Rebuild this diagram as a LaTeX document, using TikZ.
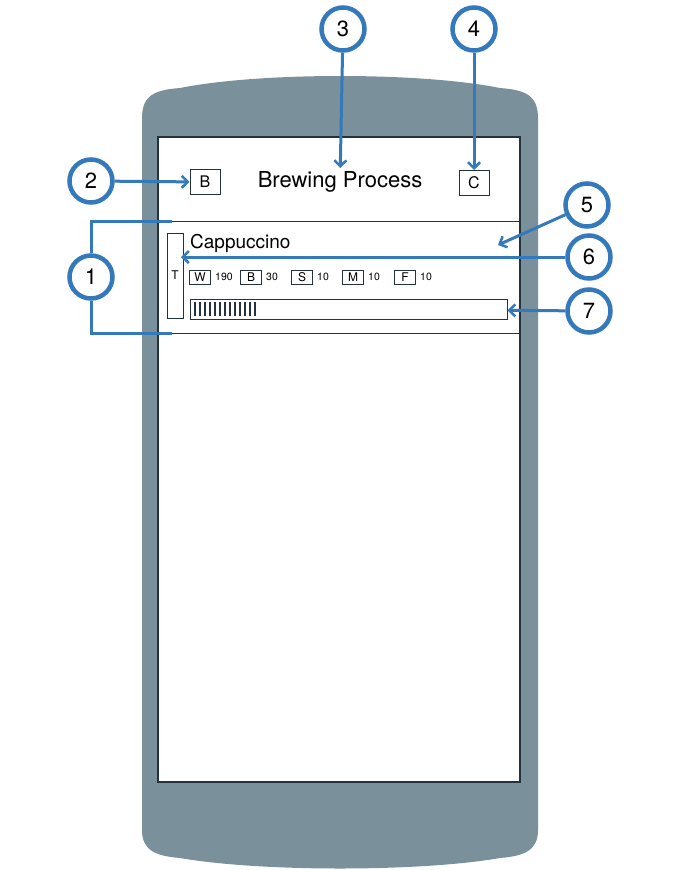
\documentclass[tikz,border=0pt]{standalone}
\usepackage{fontspec}
\setmainfont{TeX Gyre Heros}
\usetikzlibrary{arrows.meta, positioning, calc}

\definecolor{callblue}{HTML}{3479BC}
\definecolor{phonegray}{HTML}{7A909B}
\definecolor{inkdark}{HTML}{24333B}

\begin{document}
\begin{tikzpicture}[
    x = 1pt, y = -1pt,
    callout/.style = {circle,
      draw = callblue, line width = 4.5pt, fill = white,
      minimum size = 43pt, inner sep = 0pt,
      font = \fontsize{22}{24}\selectfont},
    pointer/.style = {draw = callblue, line width = 3pt,
      -{Straight Barb[length = 6pt, width = 12pt, line width = 2.5pt]}},
    letterbox/.style = {draw = inkdark, line width = 1pt,
      minimum width = 21pt, minimum height = 14pt, inner sep = 0pt,
      font = \fontsize{12}{13}\selectfont},
    amount/.style = {anchor = west, inner sep = 0pt,
      font = \fontsize{10.5}{11}\selectfont}
    ]

    \useasboundingbox (0, 0) rectangle (680, 870);

    % phone body
    \fill [phonegray] (142, 830) -- (142, 118)
      .. controls (142, 95) and (155, 90) .. (180, 88)
      .. controls (260, 72) and (420, 72) .. (500, 88)
      .. controls (525, 90) and (538, 95) .. (538, 118)
      -- (538, 830)
      .. controls (538, 850) and (525, 856) .. (500, 858)
      .. controls (420, 872) and (260, 872) .. (180, 858)
      .. controls (155, 856) and (142, 850) .. (142, 830) -- cycle;

    % screen
    \draw [inkdark, line width = 1.3pt, fill = white] (158, 137) rectangle (520, 782);
    \draw [inkdark, line width = 1pt] (158, 221) -- (520, 221);
    \draw [inkdark, line width = 1pt] (158, 333) -- (520, 333);

    % header
    \node at (205, 182) [draw = inkdark, line width = 1pt, minimum width = 30pt,
      minimum height = 25pt, inner sep = 0pt, name = back,
      font = \fontsize{16}{17}\selectfont] {B};
    \node at (340, 182) [name = title, font = \fontsize{22}{24}\selectfont] {Brewing Process};
    \node at (474, 183) [draw = inkdark, line width = 1pt, minimum width = 30pt,
      minimum height = 25pt, inner sep = 0pt, name = cancel,
      font = \fontsize{16}{17}\selectfont] {C};

    % list item
    \node at (175, 275.5) [draw = inkdark, line width = 1pt, minimum width = 16pt,
      minimum height = 85pt, inner sep = 0pt, name = tag,
      font = \fontsize{12}{13}\selectfont] {T};
    \node at (190, 243) [anchor = west, inner sep = 0pt, name = drink,
      font = \fontsize{19}{21}\selectfont] {Cappuccino};

    \node at (200, 277) [letterbox, name = water] {W};
    \node [amount, right = 4pt of water] {190};
    \node at (251, 277) [letterbox, name = beans] {B};
    \node [amount, right = 4pt of beans] {30};
    \node at (302, 277) [letterbox, name = sugar] {S};
    \node [amount, right = 4pt of sugar] {10};
    \node at (353, 277) [letterbox, name = milk] {M};
    \node [amount, right = 4pt of milk] {10};
    \node at (405, 277) [letterbox, name = foam] {F};
    \node [amount, right = 4pt of foam] {10};

    \node at (348.5, 309) [draw = inkdark, line width = 1pt, minimum width = 317pt,
      minimum height = 20pt, inner sep = 0pt, name = progress] {};
    \foreach \i in {0, ..., 12}
      \draw [inkdark, line width = 1.4pt] (195 + 5 * \i, 302) -- (195 + 5 * \i, 316);

    % callouts
    \node at (91, 277) [callout, name = c1] {1};
    \node at (91, 181) [callout, name = c2] {2};
    \node at (343, 29) [callout, name = c3] {3};
    \node at (474, 29) [callout, name = c4] {4};
    \node at (587, 205) [callout, name = c5] {5};
    \node at (589, 257) [callout, name = c6] {6};
    \node at (589, 311) [callout, name = c7] {7};

    \coordinate (rowtop) at (172, 221);
    \coordinate (rowbottom) at (172, 333);
    \coordinate (itemtarget) at (498, 245);
    \coordinate (tagtarget) at (181, 257);

    \draw [draw = callblue, line width = 3pt] (c1) -- (91, 221) -- (rowtop);
    \draw [draw = callblue, line width = 3pt] (c1) -- (91, 333) -- (rowbottom);
    \draw [pointer] (c2) -- (back);
    \draw [pointer] (c3) -- (title);
    \draw [pointer] (c4) -- (cancel);
    \draw [pointer] (c5) -- (itemtarget);
    \draw [pointer] (c6) -- (tagtarget);
    \draw [pointer] (c7) -- (progress);

  \end{tikzpicture}
\end{document}
